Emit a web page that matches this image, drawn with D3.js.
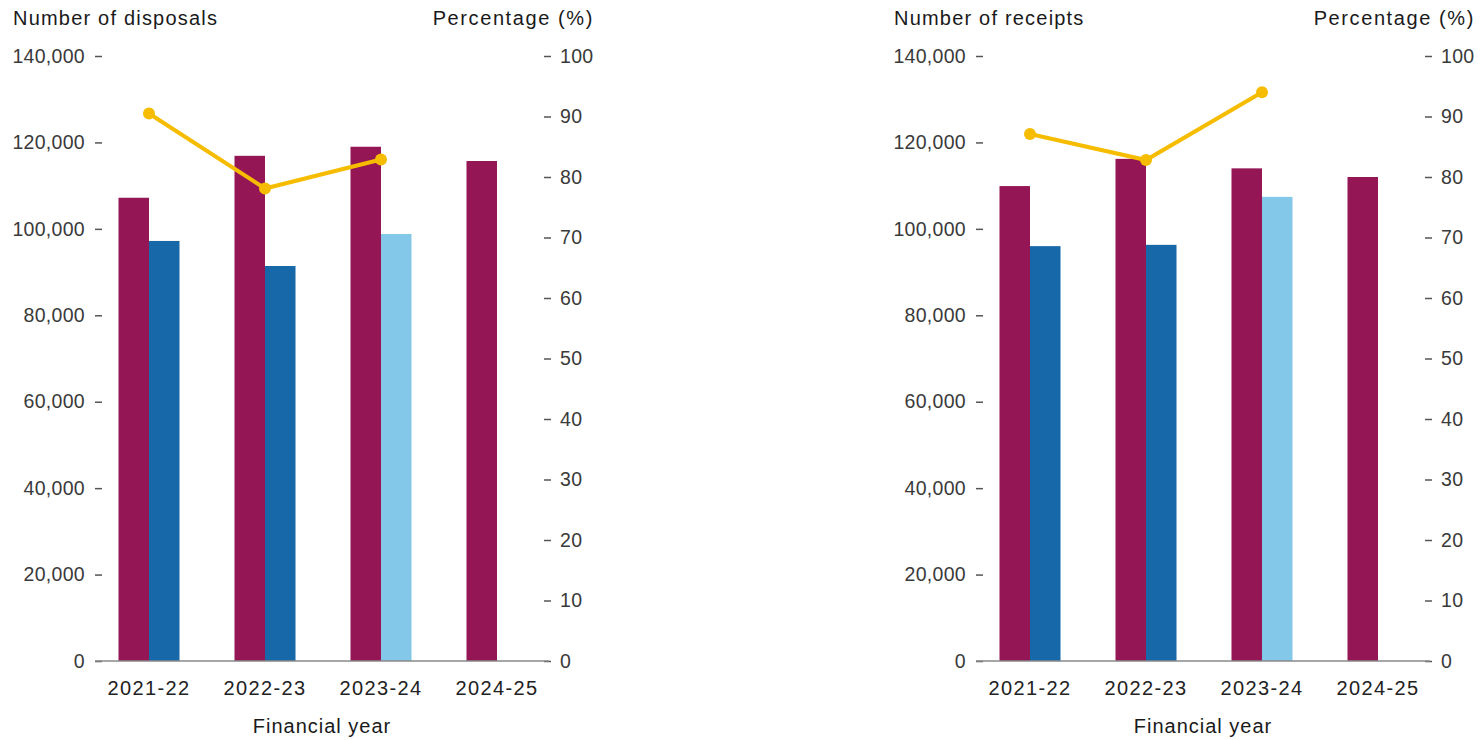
<!DOCTYPE html>
<html>
<head>
<meta charset="utf-8">
<script src="https://cdn.jsdelivr.net/npm/d3@7"></script>
<style>
  body { margin: 0; background: #fff; }
  svg text { font-family: "Liberation Sans", Arial, sans-serif; }
</style>
</head>
<body>
<div class="canvas"></div>
<script>
const WIDTH = 1481;
const HEIGHT = 740;

// data
const years = ['2021-22', '2022-23', '2023-24', '2024-25'];

const disposalsMain = [107200, 116900, 119000, 115700];
const disposalsSecond = [97200, 91400, 98800];
const disposalsPct = [90.5, 78.1, 82.9];

const receiptsMain = [109900, 116200, 114000, 112000];
const receiptsSecond = [96000, 96300, 107400];
const receiptsPct = [87.1, 82.8, 94.0];

const countTicks = [0, 20000, 40000, 60000, 80000, 100000, 120000, 140000];
const pctTicks = [0, 10, 20, 30, 40, 50, 60, 70, 80, 90, 100];

const MAROON = '#941655';
const BLUE = '#1668a8';
const LIGHT_BLUE = '#83c8e8';
const YELLOW = '#f6bd00';

const svg = d3.select('.canvas')
  .append('svg')
    .attr('width', WIDTH)
    .attr('height', HEIGHT);

// shared scales (each panel is shifted sideways)
const x = d3.scaleBand()
  .domain(years)
  .range([91, 555]);

const y = d3.scaleLinear()
  .domain([0, 140000])
  .range([661, 56]);

const yPct = d3.scaleLinear()
  .domain([0, 100])
  .range([661, 56]);

const BAR_W = 30.5;

function drawPanel(offsetX, title, mainVals, secondVals, pctVals) {
  const g = svg.append('g')
    .attr('transform', `translate(${offsetX},0)`);

  // titles
  g.append('text')
    .attr('x', 13)
    .attr('y', 25)
    .attr('font-size', 20)
    .attr('letter-spacing', 1.2)
    .attr('fill', '#1a1a1a')
    .text(title);

  g.append('text')
    .attr('x', 594)
    .attr('y', 25)
    .attr('text-anchor', 'end')
    .attr('font-size', 20)
    .attr('letter-spacing', 1.6)
    .attr('fill', '#1a1a1a')
    .text('Percentage (%)');

  // left axis
  const leftAxis = g.append('g')
    .attr('transform', 'translate(102,0)')
    .call(d3.axisLeft(y)
      .tickValues(countTicks)
      .tickSize(7)
      .tickPadding(10)
      .tickFormat(d3.format(',')));

  // right axis
  const rightAxis = g.append('g')
    .attr('transform', 'translate(544,0)')
    .call(d3.axisRight(yPct)
      .tickValues(pctTicks)
      .tickSize(7)
      .tickPadding(9));

  [leftAxis, rightAxis].forEach(a => {
    a.select('.domain').remove();
    a.selectAll('line').attr('stroke', '#555').attr('stroke-width', 1.5);
    a.selectAll('text')
      .attr('font-size', 19.5)
      .attr('letter-spacing', 0.3)
      .attr('fill', '#3a3a3a')
      .attr('font-family', '"Liberation Sans", Arial, sans-serif');
  });

  // bars
  g.selectAll('rect.main')
    .data(mainVals)
    .enter()
    .append('rect')
      .attr('class', 'main')
      .attr('x', (d, i) => x(years[i]) + x.bandwidth() / 2 - BAR_W)
      .attr('y', d => y(d))
      .attr('width', BAR_W)
      .attr('height', d => y(0) - y(d))
      .attr('fill', MAROON);

  g.selectAll('rect.second')
    .data(secondVals)
    .enter()
    .append('rect')
      .attr('class', 'second')
      .attr('x', (d, i) => x(years[i]) + x.bandwidth() / 2)
      .attr('y', d => y(d))
      .attr('width', BAR_W)
      .attr('height', d => y(0) - y(d))
      .attr('fill', (d, i) => i === 2 ? LIGHT_BLUE : BLUE);

  // baseline
  g.append('line')
    .attr('x1', 95)
    .attr('x2', 549)
    .attr('y1', y(0))
    .attr('y2', y(0))
    .attr('stroke', '#888')
    .attr('stroke-width', 1.6);

  // percentage line
  const line = d3.line()
    .x((d, i) => x(years[i]) + x.bandwidth() / 2)
    .y(d => yPct(d));

  g.append('path')
    .datum(pctVals)
    .attr('d', line)
    .attr('fill', 'none')
    .attr('stroke', YELLOW)
    .attr('stroke-width', 4);

  g.selectAll('circle')
    .data(pctVals)
    .enter()
    .append('circle')
      .attr('cx', (d, i) => x(years[i]) + x.bandwidth() / 2)
      .attr('cy', d => yPct(d))
      .attr('r', 6)
      .attr('fill', YELLOW);

  // x labels
  g.selectAll('text.year')
    .data(years)
    .enter()
    .append('text')
      .attr('class', 'year')
      .attr('x', d => x(d) + x.bandwidth() / 2)
      .attr('y', 695)
      .attr('text-anchor', 'middle')
      .attr('font-size', 20)
      .attr('letter-spacing', 1.4)
      .attr('fill', '#222')
      .text(d => d);

  g.append('text')
    .attr('x', 322)
    .attr('y', 733)
    .attr('text-anchor', 'middle')
    .attr('font-size', 20)
    .attr('letter-spacing', 1.0)
    .attr('fill', '#1a1a1a')
    .text('Financial year');
}

drawPanel(0, 'Number of disposals', disposalsMain, disposalsSecond, disposalsPct);
drawPanel(881, 'Number of receipts', receiptsMain, receiptsSecond, receiptsPct);
</script>
</body>
</html>
